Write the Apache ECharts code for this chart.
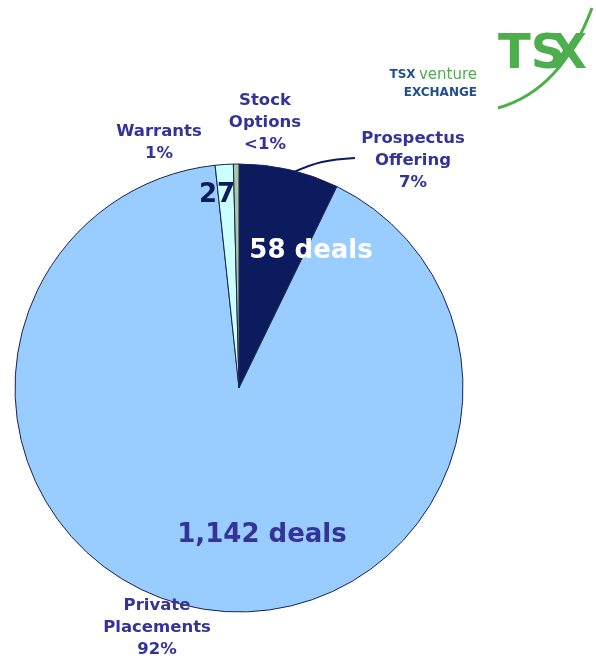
<!DOCTYPE html>
<html><head><meta charset="utf-8">
<script src="https://cdn.jsdelivr.net/npm/echarts@6/dist/echarts.min.js"></script>
<style>html,body{margin:0;padding:0;background:#fff}#c{width:596px;height:658px}</style>
</head><body><div id="c"></div>
<script>
// Data (share of total, %)
const categories = ['Prospectus Offering', 'Private Placements', 'Warrants', 'Stock Options'];
const shares = [7.2, 91.1, 1.3, 0.4];
const pctLabels = ['7%', '92%', '1%', '<1%'];
const dealLabels = ['58 deals', '1,142 deals', '27', ''];
const nameLines = [['Prospectus', 'Offering'], ['Private', 'Placements'], ['Warrants'], ['Stock', 'Options']];
const colors = ['#0b1b5e', '#99ccff', '#ccffff', '#a9c9a4'];

const chart = echarts.init(document.getElementById('c'));
const labelColor = '#333399';
const font = '"DejaVu Sans", Verdana, sans-serif';

const outsidePos = [[413, 128], [157, 595], [159, 121], [265, 90]];
const dealPos = [[311, 251], [262, 535], [217, 195]];
const dealStyle = [
  {fill: '#ffffff', fontSize: 26},
  {fill: labelColor, fontSize: 26},
  {fill: '#0b1b5e', fontSize: 26}
];

const graphics = [];
categories.forEach((c, i) => {
  const lines = nameLines[i].concat([pctLabels[i]]);
  graphics.push({
    type: 'text', x: outsidePos[i][0], y: outsidePos[i][1], z: 10,
    style: {
      text: lines.join('\n'), fill: labelColor, font: 'bold 16.5px ' + font,
      lineHeight: 22, textAlign: 'center'
    }
  });
});
dealLabels.forEach((d, i) => {
  if (!d) return;
  graphics.push({
    type: 'text', x: dealPos[i][0], y: dealPos[i][1], z: 10,
    style: {
      text: d, fill: dealStyle[i].fill, font: 'bold ' + dealStyle[i].fontSize + 'px ' + font,
      textAlign: 'center', textVerticalAlign: 'middle'
    }
  });
});
// leader line for Prospectus label
graphics.push({
  type: 'polyline', z: 10,
  shape: {points: [[294, 172], [322, 162], [355, 158]], smooth: 0.4},
  style: {stroke: '#0b1b5e', lineWidth: 2, fill: null}
});
// TSX Venture Exchange logo
graphics.push({
  type: 'text', x: 498, y: 32, z: 10,
  style: {text: 'TS', fill: '#4cae4c', font: 'bold 48px ' + font}
});
graphics.push({
  type: 'text', x: 550, y: 32, z: 10,
  style: {text: 'X', fill: '#4cae4c', font: 'bold 48px ' + font}
});
graphics.push({
  type: 'bezierCurve', z: 11,
  shape: {x1: 498, y1: 108, x2: 592, y2: 8, cpx1: 555, cpy1: 92, cpx2: 580, cpy2: 40},
  style: {stroke: '#4cae4c', lineWidth: 3, fill: null}
});
graphics.push({
  type: 'text', x: 477, y: 66, z: 10,
  style: {
    text: '{a|TSX} {b|venture}\n{a|EXCHANGE}', textAlign: 'right',
    rich: {
      a: {fill: '#1f4f8f', font: 'bold 12px ' + font, lineHeight: 18},
      b: {fill: '#4cae4c', font: '15px ' + font, lineHeight: 18}
    }
  }
});

chart.setOption({
  animation: false,
  backgroundColor: '#ffffff',
  color: colors,
  series: [{
    type: 'pie',
    center: [239, 388],
    radius: [0, 224],
    startAngle: 90,
    clockwise: true,
    label: {show: false},
    labelLine: {show: false},
    itemStyle: {borderColor: '#1a2452', borderWidth: 1},
    emphasis: {disabled: true},
    data: categories.map((c, i) => ({name: c, value: shares[i]}))
  }],
  graphic: graphics
});
</script>
</body></html>
